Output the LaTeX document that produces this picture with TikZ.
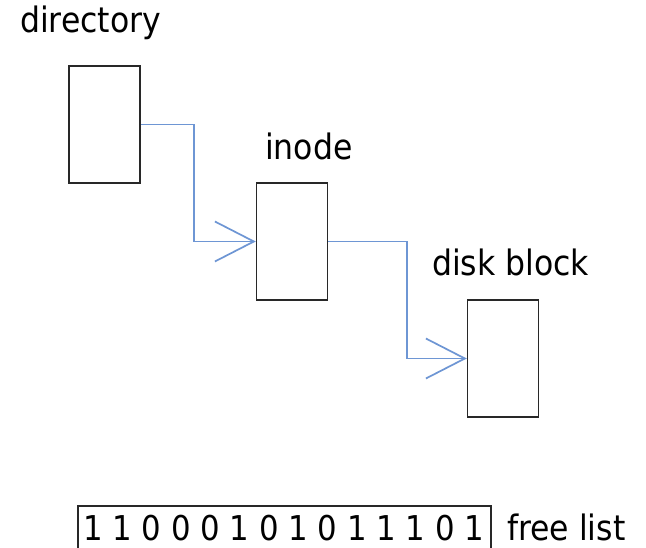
\documentclass[tikz,border=0pt]{standalone}
\usepackage{fontspec}
\setmainfont{DejaVu Sans Condensed}
\usetikzlibrary{arrows.meta}
\definecolor{linkblue}{RGB}{110,150,212}
\definecolor{boxgray}{RGB}{40,40,40}
\tikzset{
  blockbox/.style={draw=boxgray, line width=1.5pt, fill=white, minimum width=71pt, minimum height=117pt, inner sep=0pt},
  label/.style={anchor=base west, inner sep=0pt, font=\fontsize{35}{42}\selectfont},
  link/.style={draw=linkblue, line width=1.7pt, -{Straight Barb[length=39pt, width=40pt, line width=1.7pt]}},
}
\begin{document}
\begin{tikzpicture}[x=1pt, y=-1pt]
  \clip (0,0) rectangle (646,548);
  \fill[white] (0,0) rectangle (646,548);

  % storage structures
  \node[blockbox] (dir)   at (104.5,124.5) {};
  \node[blockbox] (inode) at (292,241.5) {};
  \node[blockbox] (disk)  at (503,358.5) {};

  \node[label] (dirlbl)   at (20,33)  {directory};
  \node[label] (inodelbl) at (265,160) {inode};
  \node[label] (disklbl)  at (432,276) {disk block};

  % pointers
  \draw[link] (dir.east) -- ++(53,0) |- (inode.west);
  \draw[link] (inode.east) -- ++(79,0) |- (disk.west);

  % free-block bitmap
  \node[label, font=\fontsize{34.2}{42}\selectfont] (bits) at (83,540) {1 1 0 0 0 1 0 1 0 1 1 1 0 1};
  \draw[boxgray, line width=1.2pt] (78,560) |- (491,506) -- (491,560);
  \node[label] (freelbl) at (507,540) {free list};
\end{tikzpicture}
\end{document}
